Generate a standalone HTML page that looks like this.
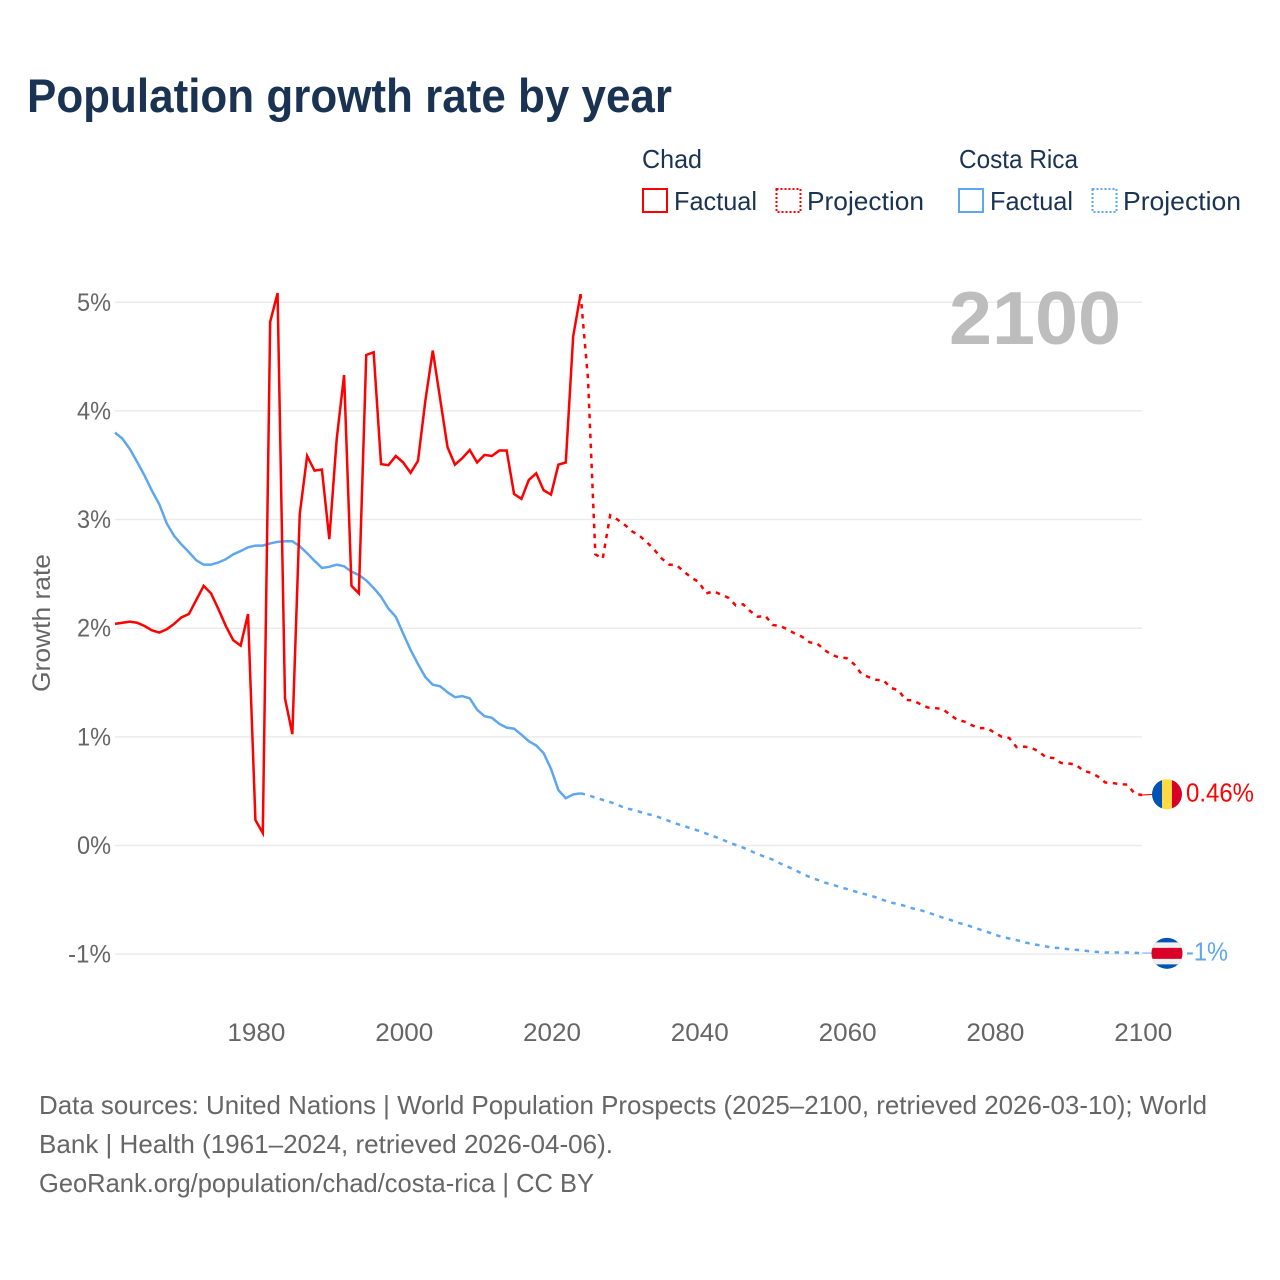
<!DOCTYPE html>
<html lang="en">
<head>
<meta charset="utf-8">
<title>Population growth rate by year</title>
<style>
html,body{margin:0;padding:0;background:#fff;width:1280px;height:1280px;overflow:hidden}
svg{display:block;font-family:"Liberation Sans",Arial,sans-serif}
</style>
</head>
<body>
<svg id="chart" xmlns="http://www.w3.org/2000/svg" width="1280" height="1280" viewBox="0 0 1280 1280">
  <defs>
    <clipPath id="flag-clip-chad"><circle id="clip-chad" cx="1167" cy="794" r="15"></circle></clipPath>
    <clipPath id="flag-clip-cr"><circle id="clip-cr" cx="1167" cy="953" r="15.5"></circle></clipPath>
  </defs>
  <text x="27" y="112" font-size="47" font-weight="700" fill="#1a3353" textLength="645" lengthAdjust="spacingAndGlyphs">Population growth rate by year</text>

  <g font-size="26" fill="#1a3353">
    <text x="642" y="168" textLength="60" lengthAdjust="spacingAndGlyphs">Chad</text>
    <text x="959" y="168" textLength="119" lengthAdjust="spacingAndGlyphs">Costa Rica</text>
    <g>
      <rect x="643" y="189" width="24" height="23" fill="none" stroke="#ff0000" stroke-width="2"></rect>
      <text x="674" y="210" textLength="83" lengthAdjust="spacingAndGlyphs">Factual</text>
    </g>
    <g>
      <rect x="776.5" y="189" width="24" height="23" fill="none" stroke="#ff0000" stroke-width="2" stroke-dasharray="2 2"></rect>
      <text x="807" y="210" textLength="117" lengthAdjust="spacingAndGlyphs">Projection</text>
    </g>
    <g>
      <rect x="959" y="189" width="24" height="23" fill="none" stroke="#5ea6ee" stroke-width="2"></rect>
      <text x="990" y="210" textLength="83" lengthAdjust="spacingAndGlyphs">Factual</text>
    </g>
    <g>
      <rect x="1092.5" y="189" width="24" height="23" fill="none" stroke="#5ea6ee" stroke-width="2" stroke-dasharray="2 2"></rect>
      <text x="1123" y="210" textLength="118" lengthAdjust="spacingAndGlyphs">Projection</text>
    </g>
  </g>

  <g id="grid"></g>
  <g id="yticks"></g>
  <g id="xticks"></g>
  <text transform="translate(50,623) rotate(-90)" text-anchor="middle" font-size="25" fill="#666666" textLength="138" lengthAdjust="spacingAndGlyphs">Growth rate</text>
  <text x="949" y="344" font-size="75" font-weight="700" fill="#bdbdbd" textLength="172" lengthAdjust="spacingAndGlyphs">2100</text>

  <g id="series"></g>

  <g id="flag-chad" clip-path="url(#flag-clip-chad)"></g>
  <g id="flag-cr" clip-path="url(#flag-clip-cr)"></g>
  <text id="end-chad" x="1186" y="801" font-size="26" fill="#ff0000" textLength="68" lengthAdjust="spacingAndGlyphs"></text>
  <text id="end-cr" x="1186" y="960" font-size="26" fill="#5ea6ee" textLength="42" lengthAdjust="spacingAndGlyphs"></text>

  <g font-size="26" fill="#666666">
    <text x="39" y="1114" textLength="1168" lengthAdjust="spacingAndGlyphs">Data sources: United Nations | World Population Prospects (2025–2100, retrieved 2026-03-10); World</text>
    <text x="39" y="1153" textLength="574" lengthAdjust="spacingAndGlyphs">Bank | Health (1961–2024, retrieved 2026-04-06).</text>
    <text x="39" y="1192" textLength="555" lengthAdjust="spacingAndGlyphs">GeoRank.org/population/chad/costa-rica | CC BY</text>
  </g>
</svg>
<script>
var xTickYears = [1980, 2000, 2020, 2040, 2060, 2080, 2100];
var yTickValues = [5, 4, 3, 2, 1, 0, -1];
var yTickLabels = ['5%', '4%', '3%', '2%', '1%', '0%', '-1%'];
var factualStartYear = 1961;
var projectionStartYear = 2024;
var chadFactual = [
  2.04,2.05,2.06,2.05,2.02,1.98,1.96,1.99,2.04,2.10,
  2.13,2.26,2.39,2.32,2.175,2.02,1.89,1.84,2.13,0.235,
  0.115,4.82,5.085,1.355,1.025,3.05,3.585,3.45,3.46,2.82,
  3.74,4.33,2.39,2.32,4.515,4.54,3.51,3.50,3.585,3.525,
  3.43,3.54,4.095,4.555,4.11,3.665,3.505,3.565,3.64,3.525,
  3.595,3.585,3.635,3.635,3.235,3.19,3.365,3.425,3.27,3.23,
  3.505,3.525,4.685,5.075
];
var chadProjection = [
  5.075,4.3,2.68,2.64,3.04,3.00,
  2.95,2.89,2.85,2.79,2.72,2.64,2.585,2.58,2.52,2.465,
  2.425,2.32,2.34,2.31,2.28,2.21,2.22,2.155,2.105,2.115,
  2.03,2.02,1.99,1.95,1.92,1.87,1.86,1.80,1.755,1.73,
  1.725,1.67,1.58,1.55,1.525,1.52,1.45,1.43,1.34,1.335,
  1.30,1.27,1.265,1.255,1.205,1.155,1.14,1.105,1.08,1.08,
  1.04,1.00,0.99,0.905,0.91,0.90,0.865,0.81,0.805,0.76,
  0.755,0.745,0.69,0.67,0.635,0.58,0.575,0.565,0.56,0.475,
  0.465
];
var costaRicaFactual = [
  3.80,3.745,3.65,3.53,3.405,3.265,3.14,2.965,2.85,2.77,
  2.70,2.625,2.585,2.585,2.605,2.635,2.68,2.71,2.745,2.76,
  2.76,2.78,2.795,2.80,2.80,2.755,2.69,2.62,2.555,2.565,
  2.585,2.57,2.52,2.49,2.44,2.37,2.29,2.18,2.105,1.95,
  1.80,1.67,1.55,1.48,1.465,1.41,1.365,1.375,1.355,1.25,
  1.19,1.175,1.12,1.085,1.075,1.02,0.96,0.92,0.85,0.705,
  0.51,0.435,0.47,0.48
];
var costaRicaProjection = [
  0.48,0.465,0.44,0.42,0.40,0.375,
  0.345,0.33,0.31,0.29,0.275,0.25,0.225,0.20,0.18,0.155,
  0.135,0.11,0.085,0.06,0.03,0.005,-0.02,-0.05,-0.08,-0.105,
  -0.13,-0.165,-0.195,-0.225,-0.26,-0.29,-0.315,-0.34,-0.36,-0.38,
  -0.40,-0.42,-0.44,-0.457,-0.478,-0.503,-0.525,-0.54,-0.558,-0.58,
  -0.595,-0.617,-0.64,-0.663,-0.684,-0.71,-0.727,-0.75,-0.773,-0.794,
  -0.82,-0.84,-0.856,-0.87,-0.89,-0.905,-0.917,-0.93,-0.94,-0.945,
  -0.954,-0.96,-0.966,-0.975,-0.98,-0.985,-0.985,-0.985,-0.985,-0.988,
  -0.99
];
var chadEndLabel = '0.46%';
var costaRicaEndLabel = '-1%';

var NS = 'http://www.w3.org/2000/svg';
var RED = '#ff0000';
var BLUE = '#5ea6ee';

function xScale(year) { return 115 + (year - 1961) * 7.39; }
function yScale(value) { return 845.5 - value * 108.65; }

function pathFor(values, startYear) {
  var d = '';
  for (var i = 0; i < values.length; i++) {
    d += (i ? 'L' : 'M') + xScale(startYear + i).toFixed(2) + ' ' + yScale(values[i]).toFixed(2);
  }
  return d;
}

function make(tag, parent, attrs) {
  var el = document.createElementNS(NS, tag);
  for (var k in attrs) { el.setAttribute(k, attrs[k]); }
  parent.appendChild(el);
  return el;
}

var grid = document.getElementById('grid');
var yticks = document.getElementById('yticks');
var xticks = document.getElementById('xticks');
var series = document.getElementById('series');

yTickValues.forEach(function (v, i) {
  var line = make('line', grid, { x1: 115, x2: 1142, y1: yScale(v), y2: yScale(v), stroke: '#ebebeb', 'stroke-width': 1.5 });
  
  
  var label = yTickLabels[i];
  var t = make('text', yticks, { x: 111, y: yScale(v) + 8.5, 'text-anchor': 'end', 'font-size': 25, fill: '#666666', textLength: label.length === 3 ? 43 : 34, lengthAdjust: 'spacingAndGlyphs' });
  t.textContent = label;
  
  
});

xTickYears.forEach(function (yr) {
  var t = make('text', xticks, { x: xScale(yr) + 1, y: 1041, 'text-anchor': 'middle', 'font-size': 25, fill: '#666666', textLength: 58, lengthAdjust: 'spacingAndGlyphs' });
  t.textContent = String(yr);
  
  
});

function drawLine(values, startYear, color, dashed) {
  var attrs = { d: pathFor(values, startYear), fill: 'none', stroke: color, 'stroke-width': 2.5, 'stroke-linejoin': 'miter' };
  if (dashed) { attrs['stroke-dasharray'] = '4.5 5.5'; }
  return make('path', series, attrs);
}

var crFactualLine = drawLine(costaRicaFactual, factualStartYear, BLUE, false);


var crProjectionLine = drawLine(costaRicaProjection, projectionStartYear, BLUE, true);


var chadFactualLine = drawLine(chadFactual, factualStartYear, RED, false);


var chadProjectionLine = drawLine(chadProjection, projectionStartYear, RED, true);



var chadEndY = yScale(chadProjection[chadProjection.length - 1]);
var crEndY = yScale(costaRicaProjection[costaRicaProjection.length - 1]);

var chadConnector = make('line', series, { x1: xScale(2100), x2: 1152, y1: chadEndY, y2: chadEndY - 0.5, stroke: RED, 'stroke-width': 1 });


var crConnector = make('line', series, { x1: xScale(2100), x2: 1152, y1: crEndY, y2: crEndY, stroke: BLUE, 'stroke-width': 1 });



var chadCy = chadEndY - 0.7;
var crCy = crEndY + 0.3;
document.getElementById('clip-chad').setAttribute('cy', chadCy);
document.getElementById('clip-cr').setAttribute('cy', crCy);

var flagChad = document.getElementById('flag-chad');
make('rect', flagChad, { x: 1152, y: chadCy - 16, width: 10, height: 32, fill: '#0052b4' });
make('rect', flagChad, { x: 1162, y: chadCy - 16, width: 10, height: 32, fill: '#ffda44' });
make('rect', flagChad, { x: 1172, y: chadCy - 16, width: 10, height: 32, fill: '#d80027' });

var flagCr = document.getElementById('flag-cr');
make('rect', flagCr, { x: 1151, y: crCy - 16, width: 32, height: 32, fill: '#0052b4' });
make('rect', flagCr, { x: 1151, y: crCy - 11, width: 32, height: 22, fill: '#f0f0f0' });
make('rect', flagCr, { x: 1151, y: crCy - 5.5, width: 32, height: 11, fill: '#d80027' });

var endChad = document.getElementById('end-chad');
endChad.textContent = chadEndLabel;
endChad.setAttribute('y', chadCy + 7);
var endCr = document.getElementById('end-cr');
endCr.textContent = costaRicaEndLabel;
endCr.setAttribute('y', crCy + 7);
</script>
</body>
</html>
